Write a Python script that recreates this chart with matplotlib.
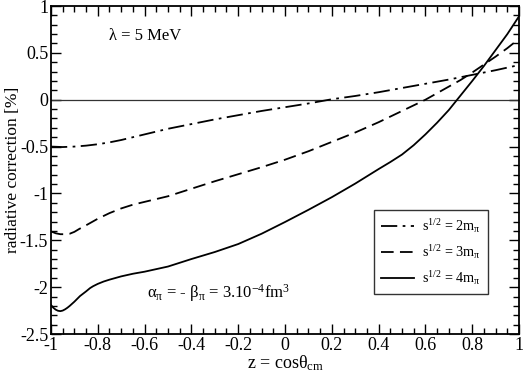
import matplotlib
matplotlib.use("Agg")
import matplotlib.pyplot as plt
import numpy as np
from matplotlib.ticker import MultipleLocator

plt.rcParams['font.family'] = ['Liberation Serif', 'DejaVu Serif']
plt.rcParams['font.size'] = 12
plt.rcParams['mathtext.fontset'] = 'custom'
plt.rcParams['mathtext.rm'] = 'Liberation Serif'
plt.rcParams['mathtext.it'] = 'Liberation Serif'
plt.rcParams['mathtext.default'] = 'rm'

# z = cos(theta_cm), radiative correction in %
z_2m = [-1.0, -0.95, -0.9, -0.85, -0.8, -0.75, -0.7, -0.6, -0.5, -0.4, -0.3, -0.2, -0.1,
        0.0, 0.1, 0.2, 0.3, 0.4, 0.5, 0.6, 0.7, 0.8, 0.9, 1.0]
rc_2m = [-0.50, -0.505, -0.50, -0.49, -0.475, -0.455, -0.43, -0.37, -0.31, -0.26, -0.21, -0.165, -0.12,
         -0.08, -0.04, 0.005, 0.04, 0.08, 0.125, 0.17, 0.215, 0.265, 0.315, 0.37]

z_3m = [-1.0, -0.98, -0.96, -0.94, -0.92, -0.9, -0.88, -0.85, -0.8, -0.75, -0.7, -0.65, -0.6, -0.5,
        -0.4, -0.3, -0.2, -0.1, 0.0, 0.1, 0.2, 0.3, 0.4, 0.5, 0.55, 0.6, 0.65, 0.7, 0.75, 0.8,
        0.85, 0.9, 0.95, 1.0]
rc_3m = [-1.405, -1.425, -1.435, -1.435, -1.43, -1.41, -1.38, -1.34, -1.27, -1.21, -1.16, -1.12, -1.09, -1.03,
         -0.95, -0.87, -0.795, -0.72, -0.64, -0.55, -0.45, -0.35, -0.24, -0.12, -0.06, 0.0, 0.07, 0.14, 0.21, 0.29,
         0.375, 0.46, 0.55, 0.65]

z_4m = [-1.0, -0.99, -0.98, -0.97, -0.96, -0.95, -0.94, -0.93, -0.92, -0.9, -0.876, -0.85, -0.833, -0.82,
        -0.8, -0.775, -0.75, -0.7, -0.65, -0.6, -0.5, -0.4, -0.3, -0.2, -0.1, 0.0, 0.1, 0.2, 0.3, 0.4,
        0.45, 0.5, 0.55, 0.6, 0.65, 0.7, 0.75, 0.8, 0.85, 0.9, 0.95, 1.0]
rc_4m = [-2.19, -2.22, -2.24, -2.252, -2.256, -2.25, -2.237, -2.22, -2.20, -2.155, -2.095, -2.045, -2.01, -1.99,
         -1.965, -1.94, -1.92, -1.885, -1.857, -1.835, -1.78, -1.70, -1.625, -1.54, -1.43, -1.305, -1.175, -1.04,
         -0.895, -0.74, -0.665, -0.585, -0.485, -0.37, -0.245, -0.11, 0.045, 0.20, 0.36, 0.53, 0.70, 0.89]

labels = [r'$\mathrm{s^{1/2}}$ = 2m$_\pi$', r'$\mathrm{s^{1/2}}$ = 3m$_\pi$', r'$\mathrm{s^{1/2}}$ = 4m$_\pi$']

fig = plt.figure(figsize=(5.24, 3.75), dpi=100)
ax = fig.add_axes([0.0973, 0.1093, 0.8932, 0.8747])

ax.axhline(0, color='#333333', lw=0.9)

ax.plot(z_2m, rc_2m, color='k', lw=1.3, dashes=[9, 3, 1.5, 3], label=labels[0])
ax.plot(z_3m, rc_3m, color='k', lw=1.3, dashes=[7, 3.5], label=labels[1])
ax.plot(z_4m, rc_4m, color='k', lw=1.3, label=labels[2])

ax.set_xlim(-1, 1)
ax.set_ylim(-2.5, 1)
ax.xaxis.set_minor_locator(MultipleLocator(0.05))
ax.yaxis.set_minor_locator(MultipleLocator(0.1))
ax.set_xticks(np.arange(-1, 1.01, 0.2))
ax.set_xticklabels(['-1', '-0.8', '-0.6', '-0.4', '-0.2', '0', '0.2', '0.4', '0.6', '0.8', '1'])
ax.set_yticks(np.arange(-2.5, 1.01, 0.5))
ax.set_yticklabels(['-2.5', '-2', '-1.5', '-1', '-0.5', '0', '0.5', '1'])
ax.tick_params(which='both', direction='in', top=True, right=True, labelsize=13, pad=2)
ax.tick_params(which='major', length=7, width=1)
ax.tick_params(which='minor', length=4, width=1)
for s in ax.spines.values():
    s.set_linewidth(1.3)

ax.set_xlabel(r'z = cos$\theta_{\mathrm{cm}}$', fontsize=13, labelpad=0)
ax.set_ylabel('radiative correction [%]', fontsize=12.5)
ax.yaxis.set_label_coords(-0.064, 0.5)

ax.text(-0.75, 0.68, 'λ = 5 MeV', fontsize=12, va='center')
ax.text(-0.59, -2.06, r'$\alpha_\pi$ = - $\beta_\pi$ = 3.10$^{-4}$fm$^3$', fontsize=12, va='center')

leg = ax.legend(loc='lower right', bbox_to_anchor=(0.934, 0.122), handlelength=2.3,
                fontsize=10.2, frameon=True, fancybox=False, borderpad=0.5, labelspacing=0.55,
                borderaxespad=0, handletextpad=0.6)
leg.get_frame().set_edgecolor('k')
leg.get_frame().set_linewidth(1.0)

fig.savefig("out.png", dpi=100)
